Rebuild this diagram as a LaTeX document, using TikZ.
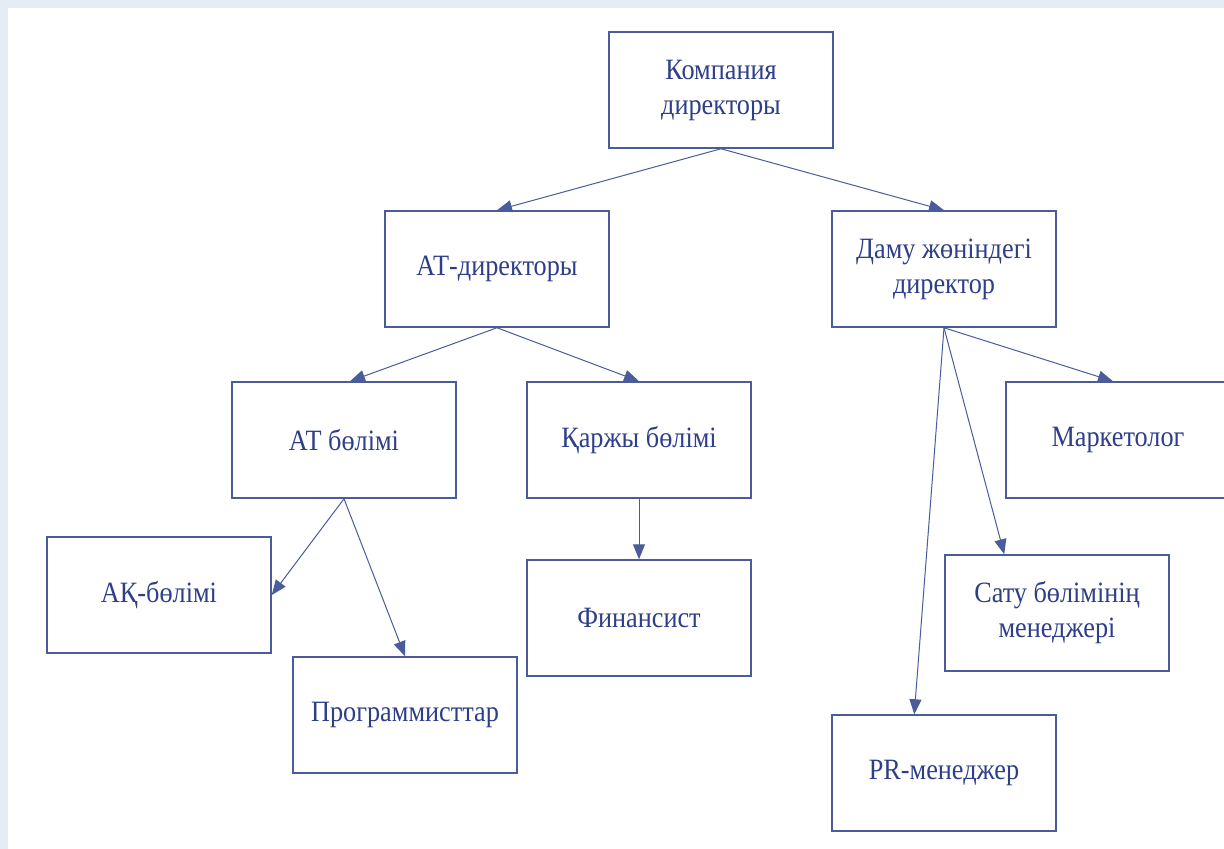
\documentclass[tikz,border=0pt]{standalone}
\usepackage{fontspec}
\setmainfont[FakeStretch=0.89]{Liberation Serif}
\usetikzlibrary{arrows.meta}
\definecolor{frameblue}{HTML}{E4ECF6}
\definecolor{boxline}{HTML}{4A5C9C}
\definecolor{txtblue}{HTML}{2F3E88}
\definecolor{arrowline}{HTML}{4B5C9A}
\begin{document}
\begin{tikzpicture}[x=1pt,y=-1pt,
  box/.style={draw=boxline,line width=1.5pt,minimum width=224pt,minimum height=116pt,
    inner sep=0pt,align=center,text=txtblue,font=\fontsize{29.5}{35}\selectfont},
  conn/.style={draw=arrowline,line width=1pt,-{Triangle[length=15pt,width=12pt]}}]
\useasboundingbox (0,0) rectangle (1224,849);
\fill[white] (0,0) rectangle (1224,849);
\fill[frameblue] (0,0) rectangle (1224,8);
\fill[frameblue] (0,0) rectangle (8,849);
\begin{scope}
\clip (8,8) rectangle (1224,849);
\node[box] (root) at (721,90) {Компания\\директоры};
\node[box] (atdir) at (497,269) {АТ-директоры};
\node[box] (damu) at (944,269) {Даму жөніндегі\\директор};
\node[box] (atb) at (344,440) {АТ бөлімі};
\node[box] (karzh) at (639,440) {Қаржы бөлімі};
\node[box] (mark) at (1118,440) {Маркетолог};
\node[box] (ak) at (159,595) {АҚ-бөлімі};
\node[box] (fin) at (639,618) {Финансист};
\node[box] (satu) at (1057,613) {Сату бөлімінің\\менеджері};
\node[box] (prog) at (405,715) {Программисттар};
\node[box] (pr) at (944,773) {PR-менеджер};
\draw[conn] (root.south) -- (atdir.north);
\draw[conn] (root.south) -- (damu.north);
\draw[conn] (atdir.south) -- ([xshift=6pt]atb.north);
\draw[conn] (atdir.south) -- (karzh.north);
\draw[conn] (atb.south) -- (ak.east);
\draw[conn] (atb.south) -- (prog.north);
\draw[conn] (karzh.south) -- (fin.north);
\draw[conn] (damu.south) -- ([xshift=-5pt]mark.north);
\draw[conn] (damu.south) -- ([xshift=60pt]satu.north west);
\draw[conn] (damu.south) -- ([xshift=83pt]pr.north west);
\end{scope}
\end{tikzpicture}
\end{document}
